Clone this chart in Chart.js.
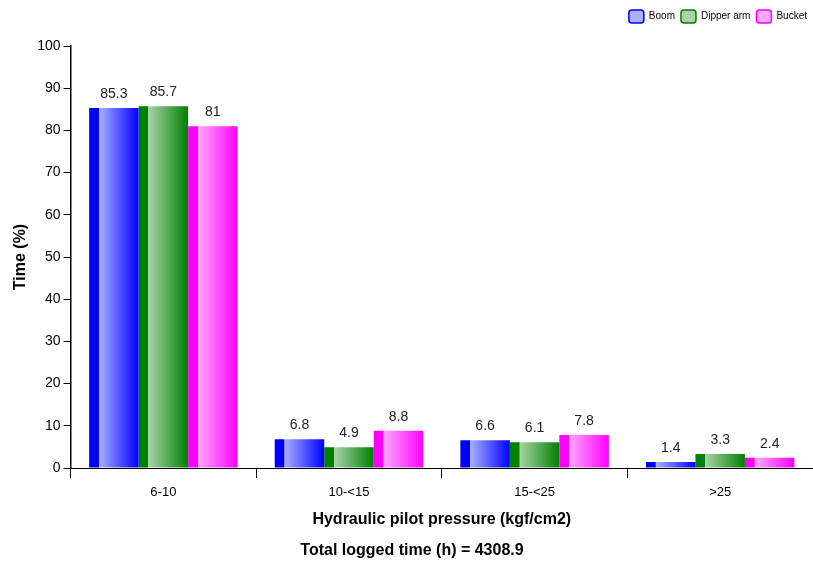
<!DOCTYPE html>
<html>
<head>
<meta charset="utf-8">
<script src="https://cdn.jsdelivr.net/npm/chart.js@4/dist/chart.umd.min.js"></script>
<style>
  body { margin: 0; background: #fff; }
  #wrap { width: 813px; height: 565px; }
</style>
</head>
<body>
<div id="wrap"><canvas id="myChart"></canvas></div>
<script>
let categories = ["6-10", "10-<15", "15-<25", ">25"];
let boom = [85.3, 6.8, 6.6, 1.4];
let dipperArm = [85.7, 4.9, 6.1, 3.3];
let bucket = [81, 8.8, 7.8, 2.4];
let yTicks = [0, 10, 20, 30, 40, 50, 60, 70, 80, 90, 100];

// dark / light colour of each series
let darkColors = ["#0000ff", "#008000", "#ff00ff"];
let lightColors = ["#a8b0ff", "#a8d4a8", "#ffa8ff"];

const font = "'Liberation Sans', Arial, sans-serif";

// shade every bar left-to-right once the bars have their positions
const barShade = {
  id: "barShade",
  beforeDatasetsDraw(chart) {
    const ctx = chart.ctx;
    chart.data.datasets.forEach((ds, i) => {
      chart.getDatasetMeta(i).data.forEach(bar => {
        const x0 = bar.x - bar.width / 2;
        const g = ctx.createLinearGradient(x0, 0, x0 + bar.width, 0);
        g.addColorStop(0, darkColors[i]);
        g.addColorStop(0.19, darkColors[i]);
        g.addColorStop(0.2, lightColors[i]);
        g.addColorStop(1, darkColors[i]);
        // own options object per bar, the resolved one is shared
        bar.options = Object.assign({}, bar.options, { backgroundColor: g });
      });
    });
  }
};

const valueLabels = {
  id: "valueLabels",
  afterDatasetsDraw(chart) {
    const ctx = chart.ctx;
    ctx.save();
    ctx.font = "14px " + font;
    ctx.fillStyle = "#222";
    ctx.textAlign = "center";
    ctx.textBaseline = "bottom";
    chart.data.datasets.forEach((ds, i) => {
      chart.getDatasetMeta(i).data.forEach((bar, j) => {
        ctx.fillText(String(ds.data[j]), bar.x, bar.y - 7);
      });
    });
    ctx.restore();
  }
};

// extra room under the legend
const legendGap = {
  id: "legendGap",
  beforeInit(chart) {
    const fit = chart.legend.fit;
    chart.legend.fit = function () {
      fit.bind(chart.legend)();
      this.height += 13;
    };
  }
};

new Chart(document.getElementById("myChart"), {
  type: "bar",
  data: {
    labels: categories,
    datasets: [
      { label: "Boom", data: boom, borderWidth: 0 },
      { label: "Dipper arm", data: dipperArm, borderWidth: 0 },
      { label: "Bucket", data: bucket, borderWidth: 0 }
    ]
  },
  options: {
    responsive: true,
    maintainAspectRatio: false,
    animation: false,
    categoryPercentage: 0.8,
    barPercentage: 1,
    layout: { padding: { left: 11, right: 0, top: 4, bottom: 5 } },
    plugins: {
      legend: {
        position: "top",
        align: "end",
        labels: {
          font: { family: font, size: 10 },
          color: "#000",
          boxWidth: 15,
          boxHeight: 13,
          padding: 6,
          useBorderRadius: true,
          borderRadius: 3,
          generateLabels(chart) {
            return chart.data.datasets.map((ds, i) => ({
              text: ds.label,
              fillStyle: lightColors[i],
              strokeStyle: darkColors[i],
              lineWidth: 1.5,
              borderRadius: 3,
              datasetIndex: i
            }));
          }
        }
      },
      title: {
        display: true,
        position: "bottom",
        text: "Total logged time (h) = 4308.9",
        color: "#000",
        font: { family: font, size: 16, weight: "bold" },
        padding: { top: 12, bottom: 0 }
      },
      tooltip: { enabled: false }
    },
    scales: {
      x: {
        grid: { display: true, drawOnChartArea: false, drawTicks: true, tickLength: 10, color: "#000", offset: true },
        border: { color: "#000", width: 1 },
        ticks: { color: "#000", font: { family: font, size: 13 }, padding: 7 },
        title: {
          display: true,
          text: "Hydraulic pilot pressure (kgf/cm2)",
          color: "#000",
          font: { family: font, size: 16, weight: "bold" },
          padding: { top: 2, bottom: 0 }
        }
      },
      y: {
        min: 0,
        max: 100,
        afterBuildTicks(axis) {
          axis.ticks = yTicks.map(v => ({ value: v }));
        },
        grid: { display: true, drawOnChartArea: false, drawTicks: true, tickLength: 7, color: "#000" },
        border: { color: "#000", width: 1.5 },
        ticks: { color: "#000", font: { family: font, size: 14 }, padding: 3 },
        title: {
          display: true,
          text: "Time (%)",
          color: "#000",
          font: { family: font, size: 16, weight: "bold" },
          padding: { top: 0, bottom: 4 }
        }
      }
    }
  },
  plugins: [barShade, valueLabels, legendGap]
});
</script>
</body>
</html>
